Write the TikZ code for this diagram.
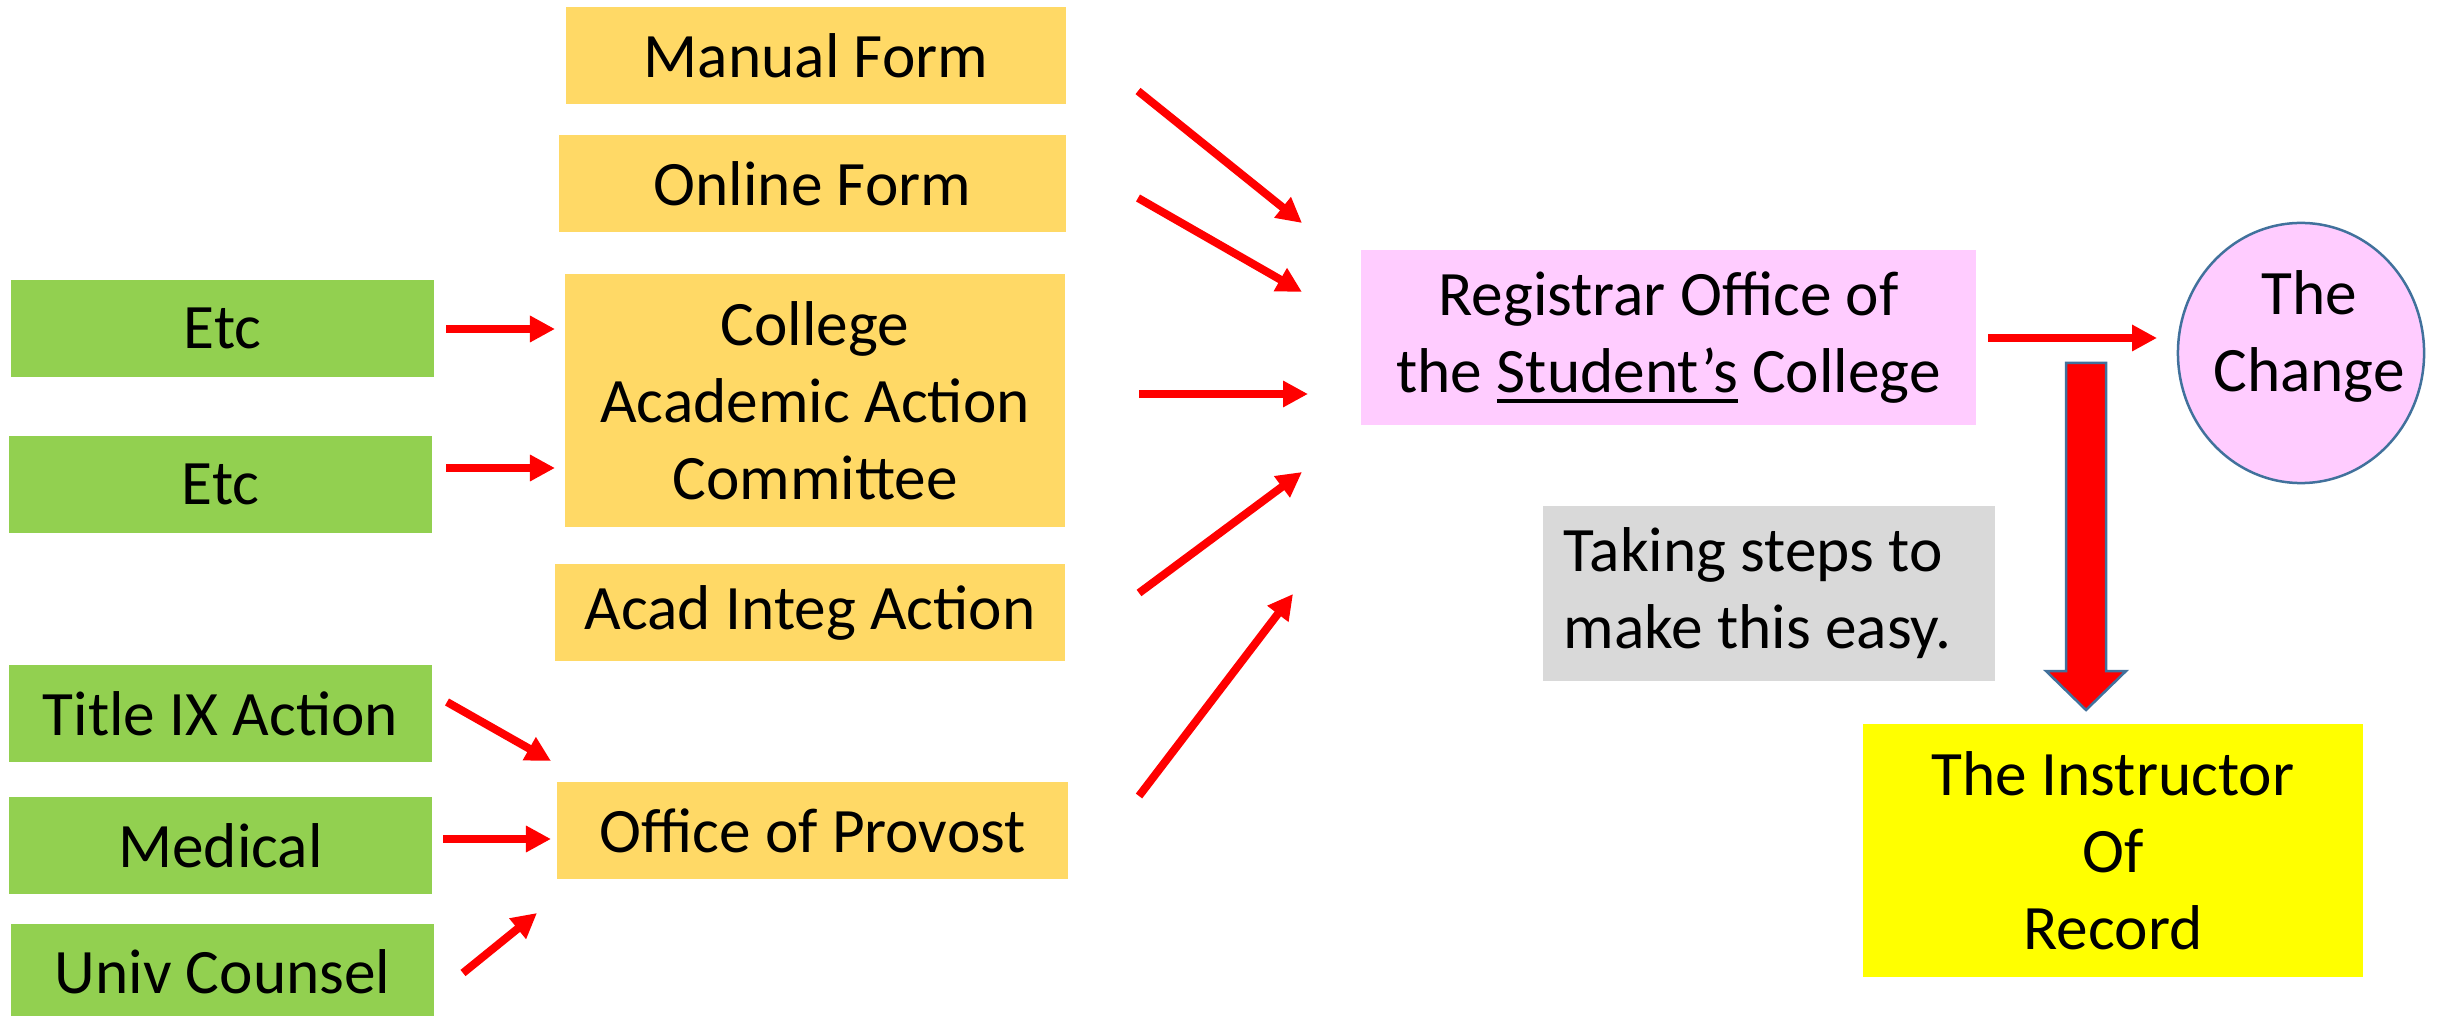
\documentclass[tikz,border=0pt]{standalone}
\usepackage{fontspec}
\setmainfont{Carlito}
\usetikzlibrary{arrows.meta,shapes.geometric}
\definecolor{gold}{HTML}{FFD966}
\definecolor{lgreen}{HTML}{92D050}
\definecolor{lpink}{HTML}{FFCCFF}
\definecolor{lgray}{HTML}{D9D9D9}
\definecolor{lyellow}{HTML}{FFFF00}
\definecolor{steel}{HTML}{41719C}
\newcommand{\thickul}[1]{\setbox0\hbox{#1}\leavevmode\rlap{\rule[-0.17em]{\wd0}{0.07em}}\box0\relax}
\begin{document}
\begin{tikzpicture}[x=0.01cm,y=-0.01cm,
  every node/.style={font=\fontsize{18}{21.9}\selectfont, inner sep=0pt, align=center},
  box/.style={rectangle, minimum height=0.97cm},
  goldbox/.style={box, fill=gold},
  greenbox/.style={box, fill=lgreen, minimum width=4.23cm},
  redarrow/.style={draw=red, line width=0.08cm, -{Triangle[length=0.25cm,width=0.25cm]}}
]
\useasboundingbox (0,0) rectangle (2440,1016);

% middle column
\node[goldbox, minimum width=5.00cm] (manual) at (816,55.5) {Manual Form};
\node[goldbox, minimum width=5.07cm] (online) at (812.5,183.5) {Online Form};
\node[goldbox, minimum width=5.00cm, minimum height=2.53cm] (college) at (815,400.5) {College\\Academic Action\\Committee};
\node[goldbox, minimum width=5.10cm] (acad) at (810,612.5) {Acad Integ Action};
\node[goldbox, minimum width=5.11cm] (provost) at (812.5,830.5) {Office of Provost};

% left column
\node[greenbox] (etc1) at (222.5,328.5) {Etc};
\node[greenbox] (etc2) at (220.5,484.5) {Etc};
\node[greenbox] (title) at (220.5,713.5) {Title IX Action};
\node[greenbox] (medical) at (220.5,845.5) {Medical};
\node[greenbox, minimum height=0.96cm] (univ) at (222.5,972) {Univ Counsel};

% right side
\node[rectangle, fill=lpink, minimum width=6.15cm, minimum height=1.75cm] (reg) at (1668.5,337.5)
  {Registrar Office of\\the \thickul{Student’s} College};
\node[ellipse, fill=lpink, draw=steel, line width=0.025cm, minimum width=2.46cm, minimum height=2.60cm] (change) at (2301,353) {};
\node (changetext) at (2309,336) {The\\Change};
\node[rectangle, fill=lgray, minimum width=4.52cm, minimum height=1.75cm, inner xsep=0.21cm, text width=4.10cm, align=flush left] (gray) at (1769,593.5)
  {Taking steps to\\make this easy.};
\node[rectangle, fill=lyellow, minimum width=5.00cm, minimum height=2.53cm] (instr) at (2113,850.5)
  {The Instructor\\Of\\Record};

% big block arrow
\draw[fill=red, draw=steel, line width=0.025cm, line join=miter]
  (2066,363) -- (2106,363) -- (2106,671) -- (2126,671) -- (2086,710) -- (2046,671) -- (2066,671) -- cycle;

% arrow end points
\coordinate (e1s) at (446,329);  \coordinate (e1t) at (555,329);
\coordinate (e2s) at (446,468);  \coordinate (e2t) at (555,468);
\coordinate (t9s) at (447,702);  \coordinate (t9t) at (551,761);
\coordinate (mds) at (443,839);  \coordinate (mdt) at (551,839);
\coordinate (ucs) at (463,973);  \coordinate (uct) at (537,913);
\coordinate (a1s) at (1138,91);  \coordinate (a1t) at (1302,223);
\coordinate (a2s) at (1138,198); \coordinate (a2t) at (1302,292);
\coordinate (a3s) at (1139,394); \coordinate (a3t) at (1308,394);
\coordinate (a4s) at (1139,593); \coordinate (a4t) at (1302,472);
\coordinate (a5s) at (1139,796); \coordinate (a5t) at (1293,594);
\coordinate (rcs) at (1988,338); \coordinate (rct) at (2157,338);

\draw[redarrow] (e1s) -- (e1t);
\draw[redarrow] (e2s) -- (e2t);
\draw[redarrow] (t9s) -- (t9t);
\draw[redarrow] (mds) -- (mdt);
\draw[redarrow] (ucs) -- (uct);
\draw[redarrow] (a1s) -- (a1t);
\draw[redarrow] (a2s) -- (a2t);
\draw[redarrow] (a3s) -- (a3t);
\draw[redarrow] (a4s) -- (a4t);
\draw[redarrow] (a5s) -- (a5t);
\draw[redarrow] (rcs) -- (rct);
\end{tikzpicture}
\end{document}
